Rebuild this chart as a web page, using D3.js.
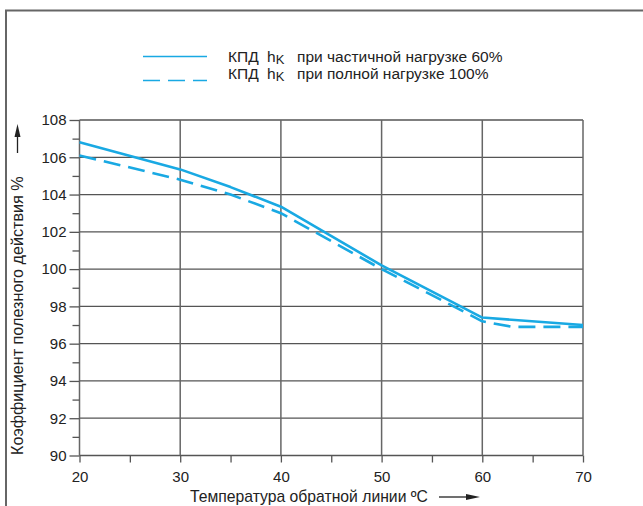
<!DOCTYPE html>
<html><head><meta charset="utf-8">
<script src="https://cdn.jsdelivr.net/npm/d3@7"></script>
<style>body{margin:0;background:#fff}svg{display:block;font-family:"Liberation Sans",Arial,sans-serif}</style>
</head><body>
<script>
const xTicks = [20, 30, 40, 50, 60, 70];
const yTicks = [90, 92, 94, 96, 98, 100, 102, 104, 106, 108];
const partialX = [20, 30, 35, 40, 50, 60, 70];
const partialY = [106.8, 105.35, 104.4, 103.35, 100.2, 97.4, 97.0];
const fullX = [20, 30, 35, 40, 50, 60, 63, 70];
const fullY = [106.1, 104.8, 104.0, 103.0, 100.0, 97.2, 96.9, 96.9];
const legendLabels = ["при частичной нагрузке 60%", "при полной нагрузке 100%"];
const xTitle = "Температура обратной линии ºС";
const yTitle = "Коэффициент полезного действия %";

const W = 643, H = 506;
const color = "#19a9e3";
const svg = d3.select("body").append("svg").attr("width", W).attr("height", H);

// frame
svg.append("path").attr("d", `M6,${H} V10.5 H${W}`).attr("fill","none").attr("stroke","#666").attr("stroke-width",2);

const x = d3.scaleLinear().domain([20,70]).range([79.5,583]);
const y = d3.scaleLinear().domain([90,108]).range([455.5,120]);

// grid
const g = svg.append("g");
g.selectAll(".gy").data(yTicks).join("line")
  .attr("x1", x(20)).attr("x2", x(70)).attr("y1", d=>y(d)).attr("y2", d=>y(d))
  .attr("stroke","#555").attr("stroke-width",1.3);
g.selectAll(".gx").data(xTicks).join("line")
  .attr("y1", y(90)).attr("y2", y(108)).attr("x1", d=>x(d)).attr("x2", d=>x(d))
  .attr("stroke","#666").attr("stroke-width",1.5);

// axes
const yAxis = d3.axisLeft(y).tickValues(yTicks).tickSize(10).tickPadding(3).tickFormat(d3.format("d"));
const yMinor = d3.axisLeft(y).tickValues(d3.range(91,108,2)).tickSize(7).tickFormat("");
const xAxis = d3.axisBottom(x).tickValues(xTicks).tickSize(7).tickPadding(9).tickFormat(d3.format("d"));
const xMinor = d3.axisBottom(x).tickValues(d3.range(25,70,10)).tickSize(7).tickFormat("");

function styleAxis(sel){
  sel.select(".domain").remove();
  sel.selectAll("line").attr("stroke","#555").attr("stroke-width",1.3);
  sel.selectAll("text").attr("font-size",15).attr("fill","#222").attr("font-family","Liberation Sans, Arial, sans-serif");
}
svg.append("g").attr("transform",`translate(${x(20)},0)`).call(yAxis).call(styleAxis);
svg.append("g").attr("transform",`translate(${x(20)},0)`).call(yMinor).call(styleAxis);
svg.append("g").attr("transform",`translate(0,${y(90)})`).call(xAxis).call(styleAxis);
svg.append("g").attr("transform",`translate(0,${y(90)})`).call(xMinor).call(styleAxis);

// lines
const line = d3.line().x(d=>x(d[0])).y(d=>y(d[1])).curve(d3.curveLinear);
const partial = partialX.map((v,i)=>[v, partialY[i]]);
const full = fullX.map((v,i)=>[v, fullY[i]]);
svg.append("path").attr("d", line(full)).attr("fill","none").attr("stroke",color)
  .attr("stroke-width",2.6).attr("stroke-dasharray","17,8").attr("stroke-linejoin","round");
svg.append("path").attr("d", line(partial)).attr("fill","none").attr("stroke",color)
  .attr("stroke-width",2.6).attr("stroke-linejoin","round");

// legend
const leg = svg.append("g");
const legY = [56.5, 80.5];
const legText = [62, 79];
leg.append("line").attr("x1",143).attr("x2",207).attr("y1",legY[0]).attr("y2",legY[0]).attr("stroke",color).attr("stroke-width",1.6);
leg.append("line").attr("x1",143).attr("x2",207).attr("y1",legY[1]).attr("y2",legY[1]).attr("stroke",color).attr("stroke-width",1.6).attr("stroke-dasharray","17,8");
legendLabels.forEach((t,i)=>{
  const tx = leg.append("text").attr("y",legText[i]).attr("font-size",15.5).attr("fill","#222");
  tx.append("tspan").attr("x",228).text("КПД");
  tx.append("tspan").attr("x",267).text("h");
  tx.append("tspan").attr("dy",2).attr("font-size",13).text("K");
  tx.append("tspan").attr("x",297).attr("dy",-2).text(t);
});

function fitFont(sel, base, target){
  sel.attr("font-size", base);
  const len = sel.node().getComputedTextLength();
  sel.attr("font-size", Math.min(17, Math.max(11, base * target / len)));
}

// x title
const xt = svg.append("text").attr("x",190).attr("y",502).attr("fill","#222").text(xTitle);
fitFont(xt, 16, 238);
svg.append("line").attr("x1",439).attr("x2",468).attr("y1",497).attr("y2",497).attr("stroke","#222").attr("stroke-width",1.3);
svg.append("path").attr("d","M480,497 L466,494 L466,500 Z").attr("fill","#222");

// y title
const yt = svg.append("text").attr("transform","translate(23,455) rotate(-90)").attr("fill","#222").text(yTitle);
fitFont(yt, 14, 279);
svg.append("line").attr("x1",17.5).attr("x2",17.5).attr("y1",153).attr("y2",135).attr("stroke","#222").attr("stroke-width",1.3);
svg.append("path").attr("d","M17.5,124 L14.5,137 L20.5,137 Z").attr("fill","#222");
</script>
</body></html>
